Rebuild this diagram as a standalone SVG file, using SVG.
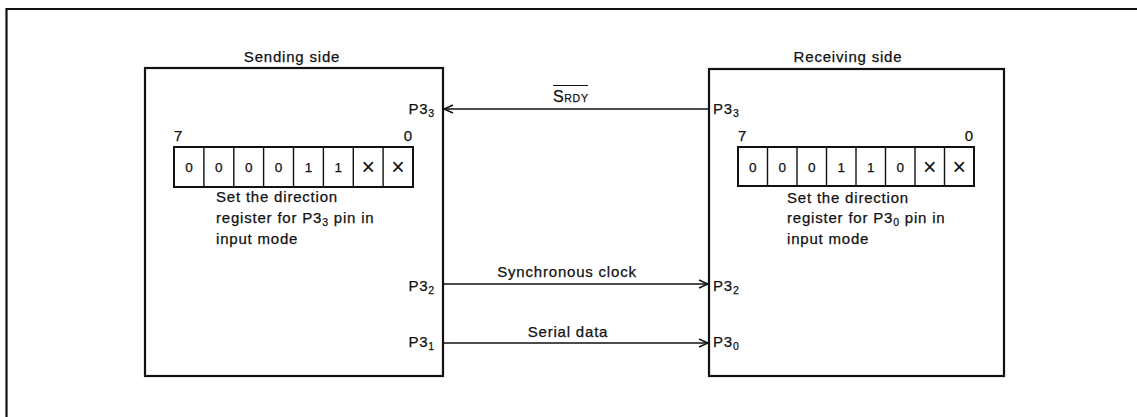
<svg xmlns="http://www.w3.org/2000/svg" width="1137" height="417" viewBox="0 0 1137 417">
<style>
text{font-family:"Liberation Sans",Arial,sans-serif;fill:#111;stroke:#111;stroke-width:0.25;}
.t{font-size:15px;letter-spacing:0.8px;}
.c{font-size:13.5px;text-anchor:middle;}
.x{font-size:23px;text-anchor:middle;stroke-width:0;}
.box{fill:none;stroke:#111;stroke-width:2.2;}
.reg{fill:#fff;stroke:#111;stroke-width:2;}
.cell{stroke:#111;stroke-width:1.4;}
.wire{stroke:#111;stroke-width:1.4;fill:none;}
.sub{font-size:10.5px;}
</style>
<defs>
<marker id="arr" markerWidth="12" markerHeight="10" refX="10" refY="5" orient="auto" markerUnits="userSpaceOnUse">
<path d="M1,1 L10,5 L1,9" fill="none" stroke="#111" stroke-width="1.4"/>
</marker>
</defs>
<path d="M6.5,417 L6.5,9 L1137,9" class="box"/>

<g id="sending">
<text class="t" x="292" y="62" text-anchor="middle">Sending side</text>
<rect class="box" x="145" y="68" width="298" height="308"/>
<text class="t" x="435" y="114" text-anchor="end" letter-spacing="0.3">P3<tspan class="sub" dy="3">3</tspan></text>
<text class="t" x="435" y="291" text-anchor="end" letter-spacing="0.3">P3<tspan class="sub" dy="3">2</tspan></text>
<text class="t" x="435" y="347" text-anchor="end" letter-spacing="0.3">P3<tspan class="sub" dy="3">1</tspan></text>
<g id="reg-send">
<text class="t" x="174" y="141">7</text>
<text class="t" x="413" y="141" text-anchor="end" letter-spacing="0">0</text>
<rect class="reg" x="174" y="147" width="239" height="40"/>
<path class="cell" d="M203.9,147V187M233.8,147V187M263.6,147V187M293.5,147V187M323.4,147V187M353.3,147V187M383.1,147V187"/>
<text class="c" x="189" y="172">0</text>
<text class="c" x="218.8" y="172">0</text>
<text class="c" x="248.7" y="172">0</text>
<text class="c" x="278.6" y="172">0</text>
<text class="c" x="308.4" y="172">1</text>
<text class="c" x="338.3" y="172">1</text>
<text class="x" x="368.2" y="175">×</text>
<text class="x" x="398" y="175">×</text>
</g>
<text class="t" x="216" y="202">Set the direction</text>
<text class="t" x="216" y="223">register for P3<tspan class="sub" dy="3">3</tspan><tspan dy="-3"> pin in</tspan></text>
<text class="t" x="216" y="244">input mode</text>
</g>

<g id="receiving">
<text class="t" x="848" y="62" text-anchor="middle">Receiving side</text>
<rect class="box" x="709" y="69" width="295" height="307"/>
<text class="t" x="713" y="114" letter-spacing="0.3">P3<tspan class="sub" dy="3">3</tspan></text>
<text class="t" x="713" y="291" letter-spacing="0.3">P3<tspan class="sub" dy="3">2</tspan></text>
<text class="t" x="713" y="347" letter-spacing="0.3">P3<tspan class="sub" dy="3">0</tspan></text>
<g id="reg-recv">
<text class="t" x="738" y="141">7</text>
<text class="t" x="974" y="141" text-anchor="end" letter-spacing="0">0</text>
<rect class="reg" x="738" y="147" width="236" height="39"/>
<path class="cell" d="M767.5,147V186M797,147V186M826.5,147V186M856,147V186M885.5,147V186M915,147V186M944.5,147V186"/>
<text class="c" x="752.8" y="171.5">0</text>
<text class="c" x="782.3" y="171.5">0</text>
<text class="c" x="811.8" y="171.5">0</text>
<text class="c" x="841.3" y="171.5">1</text>
<text class="c" x="870.8" y="171.5">1</text>
<text class="c" x="900.3" y="171.5">0</text>
<text class="x" x="929.8" y="174.5">×</text>
<text class="x" x="959.3" y="174.5">×</text>
</g>
<text class="t" x="787" y="203">Set the direction</text>
<text class="t" x="787" y="223">register for P3<tspan class="sub" dy="3">0</tspan><tspan dy="-3"> pin in</tspan></text>
<text class="t" x="787" y="244">input mode</text>
</g>

<g id="connectors">
<line class="wire" x1="709" y1="109" x2="444" y2="109" marker-end="url(#arr)"/>
<line class="wire" x1="443" y1="284" x2="708" y2="284" marker-end="url(#arr)"/>
<line class="wire" x1="443" y1="343" x2="708" y2="343" marker-end="url(#arr)"/>
<text x="553" y="102" font-size="16px" letter-spacing="0.5">S<tspan font-size="10.5px" letter-spacing="0.8">RDY</tspan></text>
<line x1="553" y1="85.5" x2="588" y2="85.5" stroke="#111" stroke-width="1.2"/>
<text class="t" x="567" y="277" text-anchor="middle">Synchronous clock</text>
<text class="t" x="568" y="337" text-anchor="middle">Serial data</text>
</g>
</svg>
